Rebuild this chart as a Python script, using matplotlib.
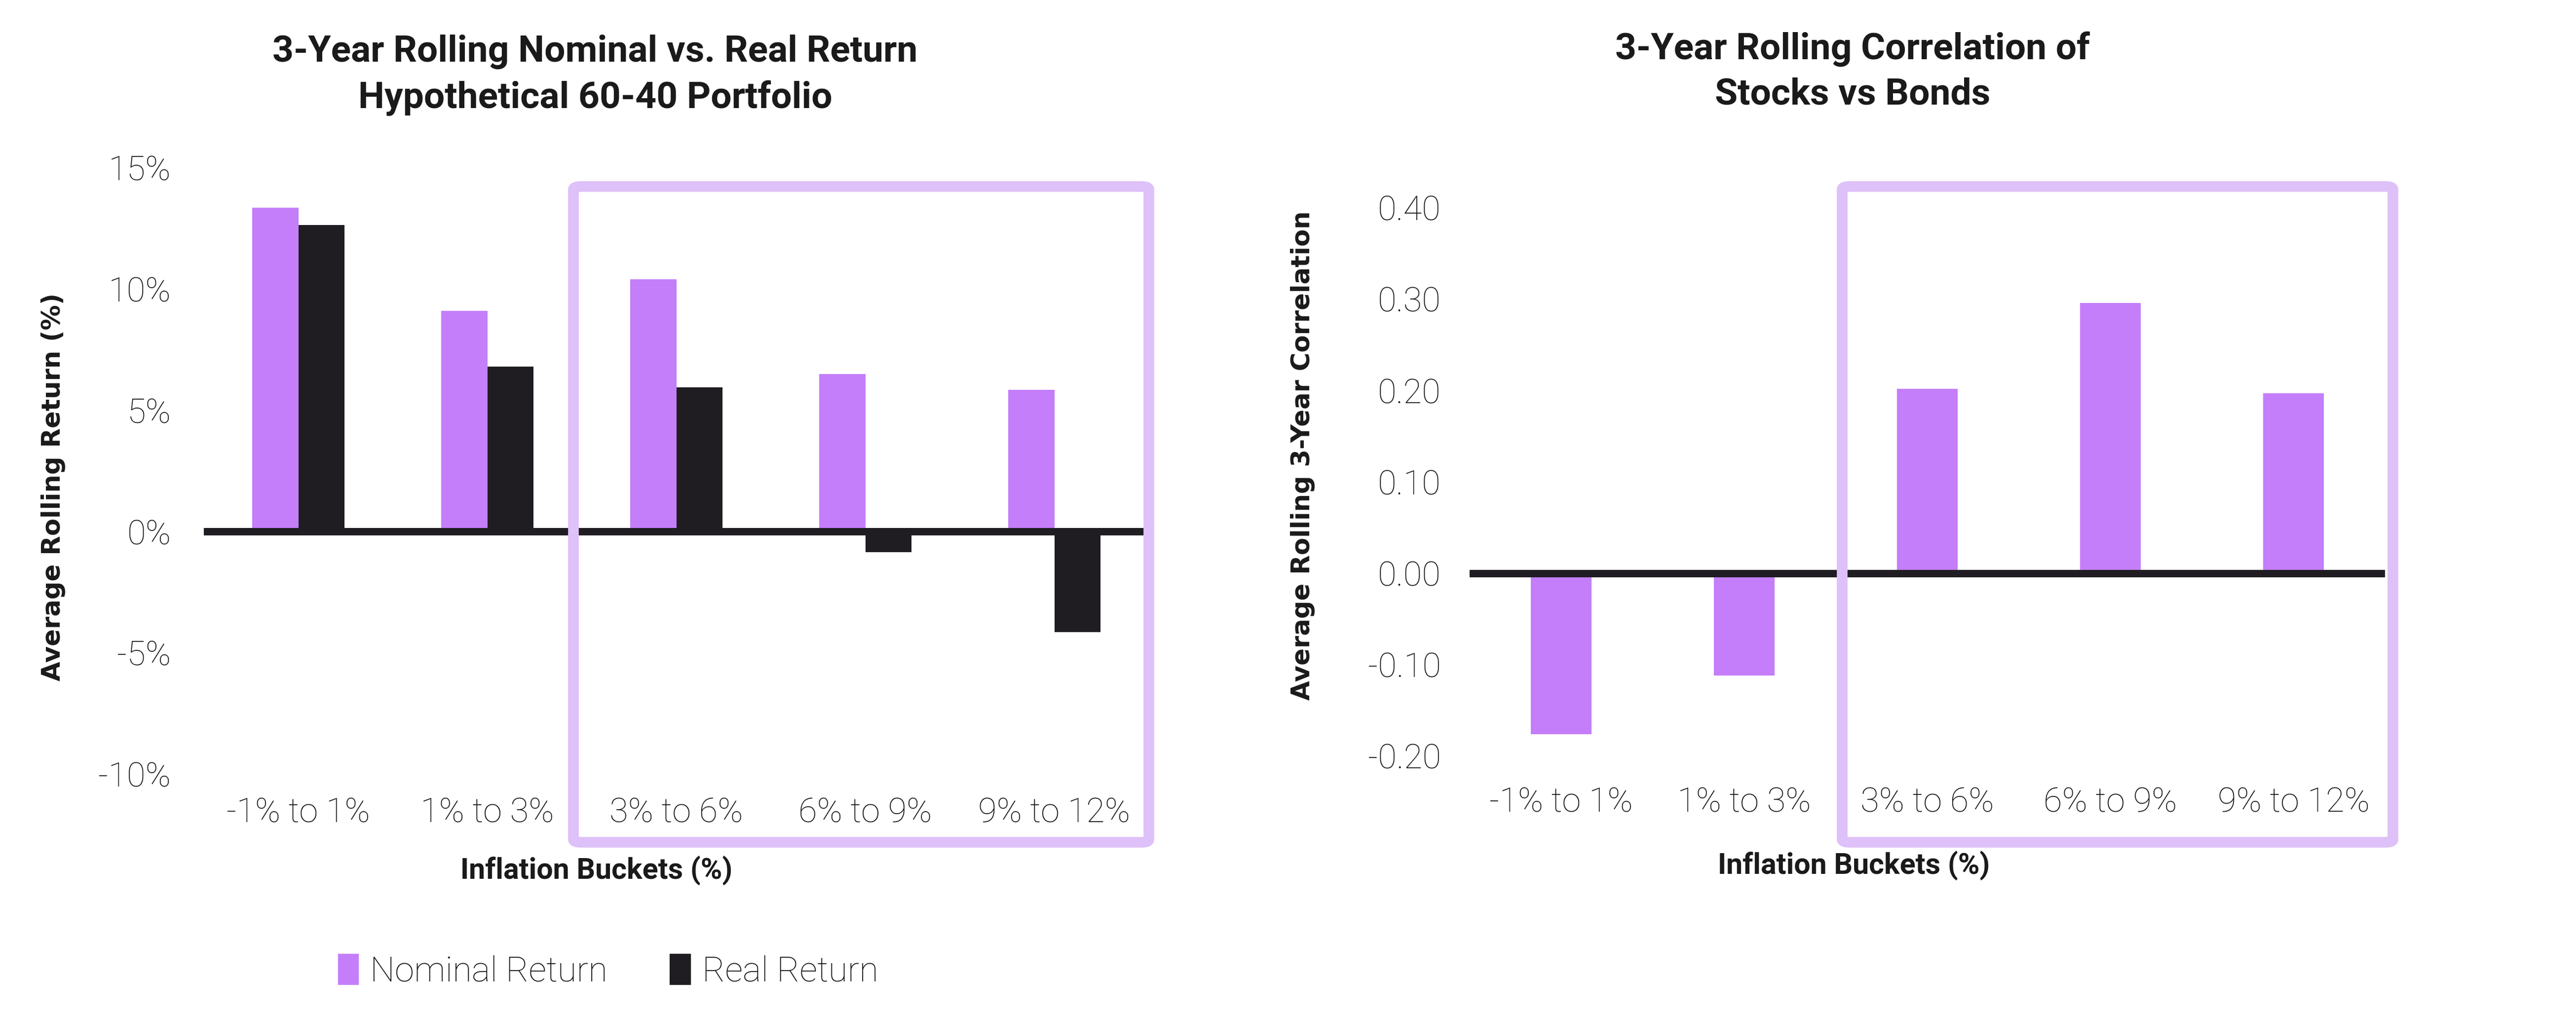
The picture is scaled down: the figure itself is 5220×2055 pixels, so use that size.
import matplotlib
matplotlib.use("Agg")
import matplotlib.pyplot as plt
from matplotlib.patches import FancyBboxPatch, Patch
import numpy as np

# data
buckets = ["-1% to 1%", "1% to 3%", "3% to 6%", "6% to 9%", "9% to 12%"]
nominal_return = [13.35, 9.1, 10.4, 6.5, 5.85]
real_return = [12.65, 6.8, 5.95, -0.85, -4.15]
correlation = [-0.176, -0.112, 0.202, 0.296, 0.197]
return_ticks = [-10, -5, 0, 5, 10, 15]
corr_ticks = [-0.2, -0.1, 0.0, 0.1, 0.2, 0.3, 0.4]

PURPLE = "#C47EFA"
DARK = "#1F1D22"
BOX = "#DEC1F8"
TEXT = "#151515"

W, H = 5220, 2055
fig = plt.figure(figsize=(W / 300, H / 300), dpi=300)

tick_font = dict(family="Roboto", weight="light", size=16.5, color=TEXT)
title_font = dict(family="Roboto", weight="bold", size=18, color="#1A1A1A")
xlab_font = dict(family="Roboto", weight="bold", size=14.2, color="#1A1A1A")
ylab_font = dict(family="DejaVu Sans", weight="bold", size=12.3, color="#1A1A1A")


def style_axes(ax):
    for s in ax.spines.values():
        s.set_visible(False)
    ax.tick_params(length=0)
    for lab in ax.get_xticklabels() + ax.get_yticklabels():
        lab.set_fontfamily(tick_font["family"])
        lab.set_fontweight(tick_font["weight"])
        lab.set_fontsize(tick_font["size"])
        lab.set_color(tick_font["color"])


# ---- left: nominal vs real returns
ax1 = fig.add_axes([413 / W, 1 - 1569 / H, 1915 / W, 1229 / H])
x = np.arange(len(buckets))
bw = 0.245
ax1.bar(x - bw / 2, nominal_return, bw, color=PURPLE, zorder=2)
ax1.bar(x + bw / 2, real_return, bw, color=DARK, zorder=2)
ax1.axhline(0, color=DARK, lw=3.6, zorder=3)
ax1.set_xlim(-0.5, 4.5)
ax1.set_ylim(-10, 15)
ax1.set_yticks(return_ticks)
ax1.set_yticklabels([f"{t}%" for t in return_ticks])
ax1.set_xticks(x)
ax1.set_xticklabels(buckets)
style_axes(ax1)
ax1.tick_params(axis="y", pad=16)
ax1.tick_params(axis="x", pad=11)
ax1.set_ylabel("Average Rolling Return (%)", **ylab_font)
ax1.yaxis.set_label_coords(-0.146, 0.474)

fig.text(1206 / W, 1 - 152 / H, "3-Year Rolling Nominal vs. Real Return\nHypothetical 60-40 Portfolio",
         ha="center", va="center", linespacing=1.4, **title_font)
fig.text(1209 / W, 1 - 1765 / H, "Inflation Buckets (%)", ha="center", va="center", **xlab_font)

# ---- right: stock/bond correlation
ax2 = fig.add_axes([2978 / W, 1 - 1532 / H, 1855 / W, 1111 / H])
bw2 = 0.33
ax2.bar(x, correlation, bw2, color=PURPLE, zorder=2)
ax2.axhline(0, color=DARK, lw=3.6, zorder=3)
ax2.set_xlim(-0.5, 4.5)
ax2.set_ylim(-0.2, 0.4)
ax2.set_yticks(corr_ticks)
ax2.set_yticklabels([f"{t:.2f}" for t in corr_ticks])
ax2.set_xticks(x)
ax2.set_xticklabels(buckets)
style_axes(ax2)
ax2.tick_params(axis="y", pad=14)
ax2.tick_params(axis="x", pad=15)
ax2.set_ylabel("Average Rolling 3-Year Correlation", **ylab_font)
ax2.yaxis.set_label_coords(-0.169, 0.548)

fig.text(3754 / W, 1 - 145 / H, "3-Year Rolling Correlation of\nStocks vs Bonds",
         ha="center", va="center", linespacing=1.4, **title_font)
fig.text(3757 / W, 1 - 1755 / H, "Inflation Buckets (%)", ha="center", va="center", **xlab_font)

# highlight boxes around the high-inflation buckets
for x0, x1 in [(1162, 2328), (3733, 4849)]:
    y0, y1 = 378, 1707
    box = FancyBboxPatch((x0 / W, 1 - y1 / H), (x1 - x0) / W, (y1 - y0) / H,
                         boxstyle="round,pad=0,rounding_size=0.003",
                         transform=fig.transFigure, fill=False,
                         edgecolor=BOX, lw=5.2, zorder=5)
    fig.patches.append(box)

# legend
handles = [Patch(color=PURPLE, label="Nominal Return"), Patch(color=DARK, label="Real Return")]
leg = fig.legend(handles=handles, loc="center", bbox_to_anchor=(1233 / W, 1 - 1969 / H),
                 ncol=2, frameon=False, handlelength=0.55, handleheight=0.9,
                 handletextpad=0.35, columnspacing=1.8,
                 prop=dict(family="Roboto", weight="light", size=17))
for t in leg.get_texts():
    t.set_color(TEXT)

fig.savefig("out.png", dpi=300)
